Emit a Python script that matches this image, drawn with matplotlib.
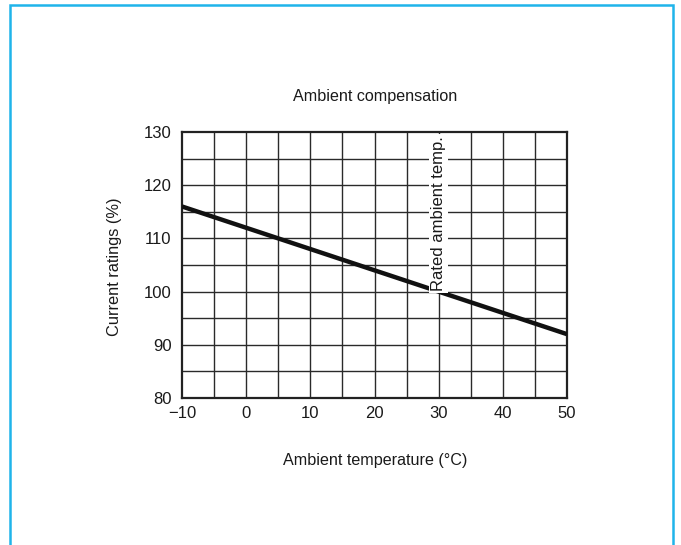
import matplotlib
matplotlib.use("Agg")
import matplotlib.pyplot as plt
from matplotlib.patches import Rectangle

plt.rcParams['font.family'] = ['Liberation Sans', 'DejaVu Sans']

temps = [-10, 50]
ratings = [116, 92]
x_ticks = [-10, 0, 10, 20, 30, 40, 50]
x_tick_labels = ['\u221210', '0', '10', '20', '30', '40', '50']
y_ticks = [80, 90, 100, 110, 120, 130]
rated_temp = 30
title = "Ambient compensation"
xlabel = "Ambient temperature (\u00b0C)"
ylabel = "Current ratings (%)"
annot = "Rated ambient temp."

W, H = 681, 545
fig = plt.figure(figsize=(W / 100, H / 100), dpi=100)
fig.patch.set_facecolor('white')

# blue frame
fig.patches.append(Rectangle((9.5 / W, -0.05), (672.5 - 9.5) / W, 1.05 - 4.5 / H,
                             transform=fig.transFigure, fill=False,
                             edgecolor='#1fb4ea', linewidth=1.8))

L, R, T, B = 182, 567, 132, 398
ax = fig.add_axes([L / W, 1 - B / H, (R - L) / W, (B - T) / H])
ax.set_xlim(-10, 50)
ax.set_ylim(80, 130)

for v in range(-5, 50, 5):
    ax.axvline(v, color='#2a2a2a', lw=1.0, zorder=1)
for v in range(85, 130, 5):
    ax.axhline(v, color='#2a2a2a', lw=1.0, zorder=1)

ax.plot(temps, ratings, color='#111111', lw=3.2, solid_capstyle='butt', zorder=3)

ax.text(rated_temp, 100.2, annot, rotation=90, ha='center', va='bottom',
        fontsize=12, color='#1a1a1a', zorder=4,
        bbox=dict(facecolor='white', edgecolor='none', pad=1.5))

ax.set_xticks(x_ticks)
ax.set_xticklabels(x_tick_labels)
ax.set_yticks(y_ticks)
ax.tick_params(length=0, labelsize=12, colors='#1a1a1a')
ax.tick_params(axis='x', pad=6)
ax.tick_params(axis='y', pad=7.5)
for s in ax.spines.values():
    s.set_linewidth(1.6)
    s.set_color('#222222')

fig.text(375 / W, 1 - 97 / H, title, ha='center', va='center', fontsize=11.6, color='#1a1a1a')
fig.text(375 / W, 1 - 460 / H, xlabel, ha='center', va='center', fontsize=11.6, color='#1a1a1a')
fig.text(114 / W, 1 - 267 / H, ylabel, ha='center', va='center', rotation=90, fontsize=11.8, color='#1a1a1a')

fig.savefig('out.png', dpi=100)
